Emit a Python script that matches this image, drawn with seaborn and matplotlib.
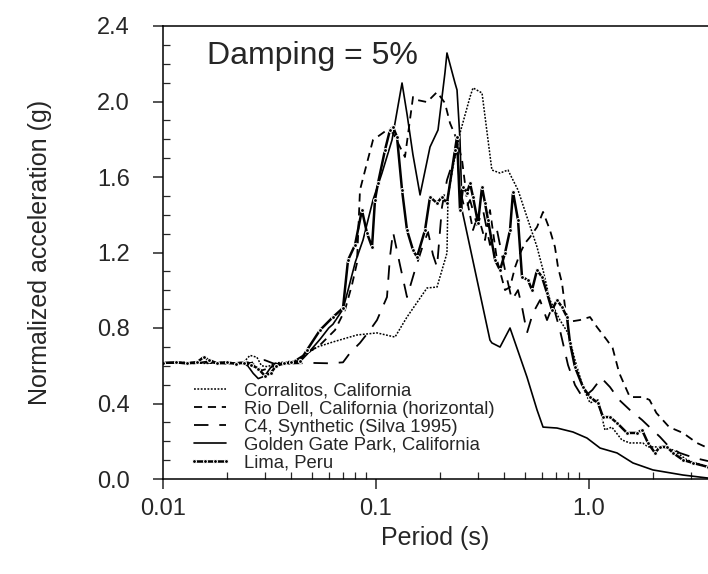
import matplotlib
matplotlib.use("Agg")
import matplotlib.pyplot as plt
import matplotlib.ticker as mticker
import numpy as np
import pandas as pd
import seaborn as sns

# ---- response spectra (period in s, normalized spectral acceleration in g) ----
corralitos_T = [0.010, 0.013, 0.016, 0.019, 0.022, 0.024, 0.0256, 0.0276, 0.029, 0.031, 0.034, 0.038,
                0.0426, 0.0529, 0.0628, 0.0814, 0.1011, 0.1228, 0.1398, 0.1736, 0.1934, 0.2154, 0.2177,
                0.2297, 0.248, 0.2763, 0.2854, 0.3146, 0.3357, 0.350, 0.3822, 0.4164, 0.4642, 0.5115,
                0.5702, 0.6085, 0.6555, 0.7304, 0.7969, 0.8595, 0.9372, 1.011, 1.102, 1.188, 1.28,
                1.426, 1.555, 1.789, 1.892, 2.154, 2.48, 2.886, 3.62]
corralitos_A = [0.615, 0.618, 0.612, 0.618, 0.612, 0.620, 0.655, 0.645, 0.600, 0.595, 0.615, 0.620,
                0.630, 0.699, 0.726, 0.763, 0.774, 0.752, 0.858, 1.012, 1.017, 1.197, 1.494,
                1.653, 1.833, 2.024, 2.072, 2.045, 1.796, 1.637, 1.621, 1.637, 1.531, 1.388,
                1.229, 1.107, 0.948, 0.842, 0.774, 0.630, 0.487, 0.403, 0.419, 0.260, 0.275,
                0.207, 0.191, 0.191, 0.170, 0.170, 0.154, 0.101, 0.064]

riodell_T = [0.010, 0.015, 0.020, 0.025, 0.027, 0.029, 0.031, 0.034, 0.040, 0.0546, 0.0642, 0.0715,
             0.0771, 0.0814, 0.0841, 0.0907, 0.0968, 0.1126, 0.1202, 0.1368, 0.1492, 0.1558, 0.1736,
             0.1934, 0.2107, 0.2225, 0.2401, 0.2535, 0.2675, 0.2854, 0.3012, 0.3249, 0.3428, 0.3699,
             0.4034, 0.4258, 0.4499, 0.4751, 0.5012, 0.5289, 0.5702, 0.6085, 0.6555, 0.6921, 0.7152,
             0.7469, 0.7721, 0.7969, 0.905, 1.011, 1.090, 1.214, 1.291, 1.386, 1.555, 1.789, 1.924,
             2.072, 2.379, 2.763, 3.21, 3.62]
riodell_A = [0.615, 0.617, 0.613, 0.618, 0.605, 0.575, 0.585, 0.610, 0.615, 0.710, 0.789, 0.895,
             1.028, 1.144, 1.531, 1.674, 1.796, 1.849, 1.833, 1.706, 2.024, 2.008, 1.997,
             2.050, 1.992, 1.886, 1.796, 1.690, 1.478, 1.319, 1.399, 1.266, 1.425, 1.160,
             1.001, 1.017, 1.123, 1.197, 1.250, 1.282, 1.335, 1.415, 1.319, 1.229, 1.123,
             1.038, 0.911, 0.832, 0.842, 0.858, 0.805, 0.736, 0.694, 0.562, 0.434, 0.434, 0.419,
             0.350, 0.275, 0.244, 0.191, 0.164]

c4_T = [0.010, 0.015, 0.020, 0.025, 0.030, 0.033, 0.036, 0.040, 0.050, 0.060, 0.070, 0.0755, 0.0841,
        0.0937, 0.1011, 0.1126, 0.1163, 0.1202, 0.1296, 0.1398, 0.1524, 0.1663, 0.1755, 0.1852,
        0.1934, 0.2041, 0.2154, 0.2272, 0.2401, 0.248, 0.2618, 0.2763, 0.298, 0.318, 0.3428,
        0.3699, 0.4034, 0.4349, 0.4642, 0.4848, 0.5115, 0.5455, 0.5891, 0.6352, 0.6777, 0.7304,
        0.7969, 0.8595, 0.9372, 1.0376, 1.144, 1.255, 1.386, 1.555, 1.774, 1.924, 2.154, 2.379,
        2.668, 3.14, 3.62]
c4_A = [0.615, 0.615, 0.618, 0.612, 0.630, 0.612, 0.605, 0.612, 0.615, 0.613, 0.618, 0.668, 0.721,
        0.789, 0.842, 0.964, 1.176, 1.309, 1.134, 0.964, 1.107, 1.240, 1.309, 1.187,
        1.123, 1.441, 1.584, 1.664, 1.743, 1.531, 1.425, 1.478, 1.346, 1.425, 1.240,
        1.319, 1.107, 0.948, 1.001, 0.911, 0.774, 0.879, 0.948, 0.842, 0.922, 0.789,
        0.604, 0.498, 0.429, 0.472, 0.535, 0.487, 0.419, 0.366, 0.313, 0.275, 0.223, 0.170,
        0.138, 0.111, 0.095]

ggp_T = [0.010, 0.012, 0.014, 0.016, 0.018, 0.020, 0.023, 0.025, 0.0265, 0.028, 0.030, 0.032, 0.035,
         0.040, 0.044, 0.0474, 0.0546, 0.060, 0.0628, 0.070, 0.0739, 0.080, 0.0869, 0.0968, 0.1067,
         0.1189, 0.1325, 0.140, 0.149, 0.161, 0.1793, 0.1955, 0.2107, 0.2154, 0.2349, 0.2401,
         0.248, 0.2535, 0.3428, 0.350, 0.3822, 0.4258, 0.5115, 0.5702, 0.6085, 0.7076, 0.841,
         0.9782, 1.127, 1.354, 1.608, 1.996, 2.763, 3.62]
ggp_A = [0.615, 0.617, 0.612, 0.622, 0.615, 0.610, 0.617, 0.600, 0.560, 0.532, 0.545, 0.590, 0.612,
         0.615, 0.622, 0.660, 0.740, 0.800, 0.820, 0.900, 1.000, 1.150, 1.266, 1.478, 1.621,
         1.796, 2.098, 1.930, 1.720, 1.505, 1.759, 1.849, 2.151, 2.257, 2.098, 2.061,
         1.796, 1.425, 0.736, 0.721, 0.699, 0.800, 0.540, 0.366, 0.275, 0.270, 0.249,
         0.217, 0.164, 0.138, 0.085, 0.048, 0.021, 0.005]

lima_T = [0.010, 0.0115, 0.013, 0.0145, 0.0155, 0.0165, 0.018, 0.020, 0.022, 0.024, 0.026, 0.028,
          0.030, 0.032, 0.034, 0.037, 0.040, 0.044, 0.0474, 0.0546, 0.0628, 0.070, 0.0739, 0.0797,
          0.0859, 0.0907, 0.0958, 0.0989, 0.1022, 0.1102, 0.1163, 0.1202, 0.1255, 0.1325, 0.1398,
          0.1492, 0.1558, 0.1699, 0.1793, 0.1934, 0.2041, 0.2154, 0.2349, 0.2401, 0.248, 0.2562,
          0.2675, 0.2763, 0.2854, 0.3012, 0.3146, 0.3249, 0.3357, 0.3621, 0.3822, 0.4034, 0.4258,
          0.4398, 0.4642, 0.4848, 0.5172, 0.540, 0.5702, 0.6018, 0.6352, 0.6704, 0.7076, 0.7469,
          0.7883, 0.8143, 0.8595, 0.9372, 1.011, 1.102, 1.164, 1.255, 1.354, 1.508, 1.681, 1.774,
          1.892, 2.041, 2.154, 2.324, 2.48, 2.763, 3.078, 3.62]
lima_A = [0.615, 0.618, 0.612, 0.620, 0.645, 0.630, 0.612, 0.618, 0.610, 0.617, 0.605, 0.585,
          0.548, 0.560, 0.600, 0.612, 0.618, 0.625, 0.683, 0.789, 0.858, 0.906, 1.160, 1.240,
          1.425, 1.303, 1.229, 1.478, 1.568, 1.743, 1.849, 1.865, 1.812, 1.531, 1.319,
          1.213, 1.176, 1.319, 1.494, 1.462, 1.494, 1.462, 1.743, 1.812, 1.425, 1.547,
          1.515, 1.568, 1.494, 1.356, 1.547, 1.462, 1.372, 1.160, 1.107, 1.197, 1.319,
          1.521, 1.372, 1.070, 1.054, 1.001, 1.107, 1.070, 0.985, 0.895, 0.948, 0.911,
          0.858, 0.721, 0.593, 0.487, 0.434, 0.403, 0.328, 0.328, 0.297, 0.244, 0.244, 0.260,
          0.191, 0.138, 0.170, 0.170, 0.138, 0.101, 0.085, 0.064]

series_names = ["Corralitos, California",
                "Rio Dell, California (horizontal)",
                "C4, Synthetic (Silva 1995)",
                "Golden Gate Park, California",
                "Lima, Peru"]

y_ticks = [0.0, 0.4, 0.8, 1.2, 1.6, 2.0, 2.4]
x_ticks = [0.01, 0.1, 1.0]
x_tick_labels = ["0.01", "0.1", "1.0"]

# ---- figure ----
sns.set_style("ticks")
plt.rcParams["font.family"] = ["Liberation Sans", "DejaVu Sans"]

fig = plt.figure(figsize=(7.08, 5.74), dpi=100)
ax = fig.add_axes([163 / 708, 95 / 574, 545 / 708, 453 / 574])

styles = [
    dict(linestyle=(0, (1.2, 1.0)), linewidth=1.1),
    dict(linestyle=(0, (4.5, 3.2)), linewidth=1.3),
    dict(linestyle=(0, (8.0, 6.0)), linewidth=1.3),
    dict(linestyle="-", linewidth=1.2),
    dict(linestyle="-", linewidth=1.8, marker="o", markersize=2.8),
]
data = [(corralitos_T, corralitos_A), (riodell_T, riodell_A), (c4_T, c4_A),
        (ggp_T, ggp_A), (lima_T, lima_A)]

for name, (T, A), st in zip(series_names, data, styles):
    df = pd.DataFrame({"period": T, "accel": A})
    sns.lineplot(data=df, x="period", y="accel", ax=ax, color="black",
                 estimator=None, sort=False, label=name, **st)

ax.set_xscale("log")
ax.set_xlim(0.01, 3.62)
ax.set_ylim(0.0, 2.4)

ax.xaxis.set_major_locator(mticker.FixedLocator(x_ticks))
ax.xaxis.set_major_formatter(mticker.FixedFormatter(x_tick_labels))
ax.xaxis.set_minor_locator(mticker.LogLocator(base=10, subs=np.arange(2, 10)))
ax.xaxis.set_minor_formatter(mticker.NullFormatter())
ax.yaxis.set_major_locator(mticker.FixedLocator(y_ticks))
ax.yaxis.set_major_formatter(mticker.FormatStrFormatter("%.1f"))
ax.yaxis.set_minor_locator(mticker.MultipleLocator(0.1))

# frame: left, bottom and top edges; the right edge lies beyond the figure
ax.spines["right"].set_visible(False)
for side in ("left", "bottom", "top"):
    ax.spines[side].set_visible(True)
    ax.spines[side].set_linewidth(1.1)
    ax.spines[side].set_color("black")

ax.tick_params(which="major", direction="out", length=7, width=1.1, labelsize=17)
ax.tick_params(axis="x", which="major", pad=7)
ax.tick_params(axis="y", which="major", pad=17)
ax.tick_params(which="minor", direction="in", length=5, width=0.9)

ax.set_xlabel("Period (s)", fontsize=18, labelpad=4)
ax.set_ylabel("Normalized acceleration (g)", fontsize=18, labelpad=32)

ax.text(0.081, 0.916, "Damping = 5%", transform=ax.transAxes, fontsize=23,
        va="baseline", ha="left")

ax.legend(loc="lower left", bbox_to_anchor=(0.03, -0.004), frameon=False, fontsize=13.3,
          handlelength=2.3, handletextpad=0.7, labelspacing=0.05, borderpad=0.0,
          numpoints=4)

fig.savefig("out.png", dpi=100)
